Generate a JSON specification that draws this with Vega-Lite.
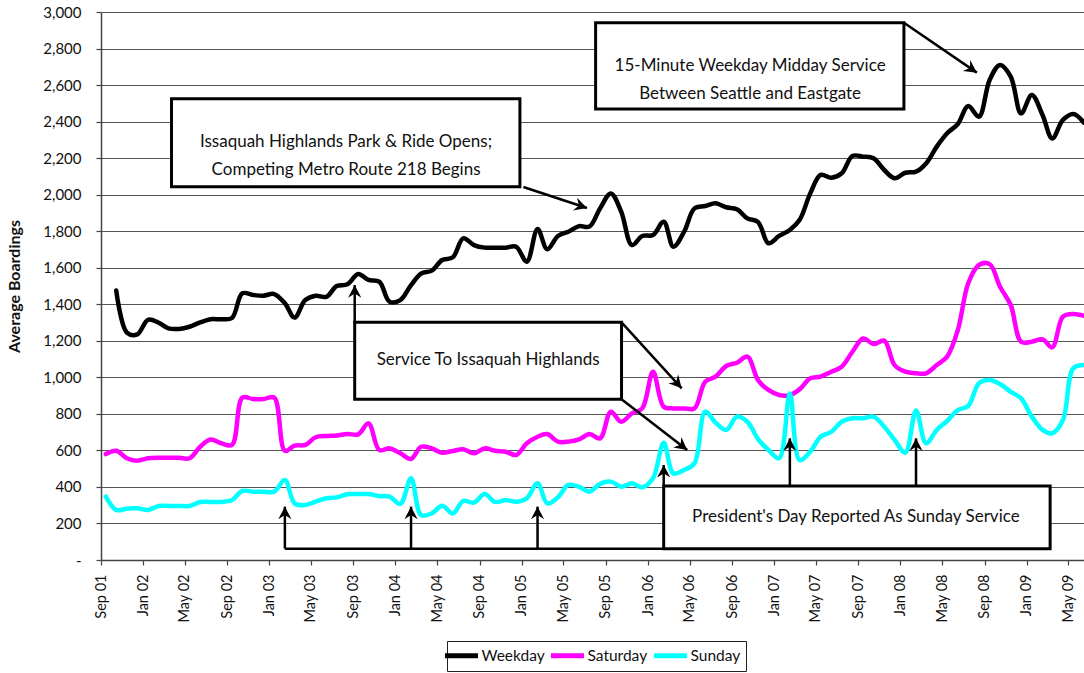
{
  "$schema": "https://vega.github.io/schema/vega-lite/v6.json",
  "width": 983,
  "height": 548,
  "autosize": {"type": "none"},
  "padding": {"left": 101, "top": 12, "right": 0, "bottom": 113},
  "background": "white",
  "config": {"view": {"stroke": null}, "font": "Lato"},
  "datasets": {
    "boardings": [
      {"month": "2001-09-15", "Weekday": null, "Saturday": 580, "Sunday": 347},
      {"month": "2001-10-15", "Weekday": 1475, "Saturday": 598, "Sunday": 274},
      {"month": "2001-11-15", "Weekday": 1245, "Saturday": 557, "Sunday": 281},
      {"month": "2001-12-15", "Weekday": 1235, "Saturday": 544, "Sunday": 283},
      {"month": "2002-01-15", "Weekday": 1315, "Saturday": 557, "Sunday": 274},
      {"month": "2002-02-15", "Weekday": 1299, "Saturday": 560, "Sunday": 296},
      {"month": "2002-03-15", "Weekday": 1268, "Saturday": 560, "Sunday": 296},
      {"month": "2002-04-15", "Weekday": 1265, "Saturday": 560, "Sunday": 296},
      {"month": "2002-05-15", "Weekday": 1277, "Saturday": 557, "Sunday": 296},
      {"month": "2002-06-15", "Weekday": 1301, "Saturday": 620, "Sunday": 318},
      {"month": "2002-07-15", "Weekday": 1318, "Saturday": 660, "Sunday": 318},
      {"month": "2002-08-15", "Weekday": 1318, "Saturday": 639, "Sunday": 318},
      {"month": "2002-09-15", "Weekday": 1325, "Saturday": 630, "Sunday": 328},
      {"month": "2002-10-15", "Weekday": 1460, "Saturday": 889, "Sunday": 378},
      {"month": "2002-11-15", "Weekday": 1451, "Saturday": 881, "Sunday": 374},
      {"month": "2002-12-15", "Weekday": 1447, "Saturday": 881, "Sunday": 374},
      {"month": "2003-01-15", "Weekday": 1456, "Saturday": 889, "Sunday": 374},
      {"month": "2003-02-15", "Weekday": 1405, "Saturday": 598, "Sunday": 438},
      {"month": "2003-03-15", "Weekday": 1327, "Saturday": 626, "Sunday": 310},
      {"month": "2003-04-15", "Weekday": 1423, "Saturday": 630, "Sunday": 301},
      {"month": "2003-05-15", "Weekday": 1447, "Saturday": 672, "Sunday": 319},
      {"month": "2003-06-15", "Weekday": 1441, "Saturday": 679, "Sunday": 338},
      {"month": "2003-07-15", "Weekday": 1500, "Saturday": 682, "Sunday": 343},
      {"month": "2003-08-15", "Weekday": 1509, "Saturday": 690, "Sunday": 360},
      {"month": "2003-09-15", "Weekday": 1566, "Saturday": 688, "Sunday": 361},
      {"month": "2003-10-15", "Weekday": 1533, "Saturday": 748, "Sunday": 361},
      {"month": "2003-11-15", "Weekday": 1524, "Saturday": 602, "Sunday": 350},
      {"month": "2003-12-15", "Weekday": 1414, "Saturday": 611, "Sunday": 347},
      {"month": "2004-01-15", "Weekday": 1423, "Saturday": 584, "Sunday": 307},
      {"month": "2004-02-15", "Weekday": 1505, "Saturday": 553, "Sunday": 447},
      {"month": "2004-03-15", "Weekday": 1568, "Saturday": 620, "Sunday": 246},
      {"month": "2004-04-15", "Weekday": 1584, "Saturday": 611, "Sunday": 255},
      {"month": "2004-05-15", "Weekday": 1642, "Saturday": 587, "Sunday": 297},
      {"month": "2004-06-15", "Weekday": 1657, "Saturday": 597, "Sunday": 255},
      {"month": "2004-07-15", "Weekday": 1761, "Saturday": 606, "Sunday": 323},
      {"month": "2004-08-15", "Weekday": 1724, "Saturday": 584, "Sunday": 314},
      {"month": "2004-09-15", "Weekday": 1710, "Saturday": 611, "Sunday": 361},
      {"month": "2004-10-15", "Weekday": 1710, "Saturday": 598, "Sunday": 318},
      {"month": "2004-11-15", "Weekday": 1710, "Saturday": 593, "Sunday": 328},
      {"month": "2004-12-15", "Weekday": 1715, "Saturday": 575, "Sunday": 319},
      {"month": "2005-01-15", "Weekday": 1633, "Saturday": 639, "Sunday": 338},
      {"month": "2005-02-15", "Weekday": 1812, "Saturday": 675, "Sunday": 420},
      {"month": "2005-03-15", "Weekday": 1701, "Saturday": 690, "Sunday": 310},
      {"month": "2005-04-15", "Weekday": 1774, "Saturday": 648, "Sunday": 343},
      {"month": "2005-05-15", "Weekday": 1797, "Saturday": 648, "Sunday": 411},
      {"month": "2005-06-15", "Weekday": 1828, "Saturday": 660, "Sunday": 401},
      {"month": "2005-07-15", "Weekday": 1825, "Saturday": 690, "Sunday": 374},
      {"month": "2005-08-15", "Weekday": 1925, "Saturday": 666, "Sunday": 417},
      {"month": "2005-09-15", "Weekday": 2007, "Saturday": 812, "Sunday": 429},
      {"month": "2005-10-15", "Weekday": 1907, "Saturday": 757, "Sunday": 401},
      {"month": "2005-11-15", "Weekday": 1724, "Saturday": 803, "Sunday": 420},
      {"month": "2005-12-15", "Weekday": 1774, "Saturday": 830, "Sunday": 398},
      {"month": "2006-01-15", "Weekday": 1779, "Saturday": 1031, "Sunday": 447},
      {"month": "2006-02-15", "Weekday": 1852, "Saturday": 839, "Sunday": 642},
      {"month": "2006-03-15", "Weekday": 1715, "Saturday": 830, "Sunday": 474},
      {"month": "2006-04-15", "Weekday": 1797, "Saturday": 830, "Sunday": 493},
      {"month": "2006-05-15", "Weekday": 1925, "Saturday": 830, "Sunday": 529},
      {"month": "2006-06-15", "Weekday": 1938, "Saturday": 976, "Sunday": 812},
      {"month": "2006-07-15", "Weekday": 1953, "Saturday": 1004, "Sunday": 752},
      {"month": "2006-08-15", "Weekday": 1931, "Saturday": 1062, "Sunday": 712},
      {"month": "2006-09-15", "Weekday": 1920, "Saturday": 1080, "Sunday": 785},
      {"month": "2006-10-15", "Weekday": 1870, "Saturday": 1113, "Sunday": 757},
      {"month": "2006-11-15", "Weekday": 1850, "Saturday": 985, "Sunday": 662},
      {"month": "2006-12-15", "Weekday": 1734, "Saturday": 931, "Sunday": 602},
      {"month": "2007-01-15", "Weekday": 1774, "Saturday": 903, "Sunday": 557},
      {"month": "2007-02-15", "Weekday": 1807, "Saturday": 903, "Sunday": 912},
      {"month": "2007-03-15", "Weekday": 1861, "Saturday": 934, "Sunday": 547},
      {"month": "2007-04-15", "Weekday": 2007, "Saturday": 995, "Sunday": 593},
      {"month": "2007-05-15", "Weekday": 2108, "Saturday": 1004, "Sunday": 675},
      {"month": "2007-06-15", "Weekday": 2093, "Saturday": 1031, "Sunday": 702},
      {"month": "2007-07-15", "Weekday": 2117, "Saturday": 1058, "Sunday": 757},
      {"month": "2007-08-15", "Weekday": 2212, "Saturday": 1140, "Sunday": 776},
      {"month": "2007-09-15", "Weekday": 2208, "Saturday": 1213, "Sunday": 776},
      {"month": "2007-10-15", "Weekday": 2199, "Saturday": 1182, "Sunday": 785},
      {"month": "2007-11-15", "Weekday": 2135, "Saturday": 1201, "Sunday": 730},
      {"month": "2007-12-15", "Weekday": 2090, "Saturday": 1067, "Sunday": 657},
      {"month": "2008-01-15", "Weekday": 2120, "Saturday": 1031, "Sunday": 588},
      {"month": "2008-02-15", "Weekday": 2126, "Saturday": 1022, "Sunday": 818},
      {"month": "2008-03-15", "Weekday": 2171, "Saturday": 1022, "Sunday": 639},
      {"month": "2008-04-15", "Weekday": 2263, "Saturday": 1067, "Sunday": 712},
      {"month": "2008-05-15", "Weekday": 2336, "Saturday": 1113, "Sunday": 761},
      {"month": "2008-06-15", "Weekday": 2387, "Saturday": 1259, "Sunday": 821},
      {"month": "2008-07-15", "Weekday": 2485, "Saturday": 1515, "Sunday": 843},
      {"month": "2008-08-15", "Weekday": 2427, "Saturday": 1615, "Sunday": 967},
      {"month": "2008-09-15", "Weekday": 2628, "Saturday": 1620, "Sunday": 985},
      {"month": "2008-10-15", "Weekday": 2710, "Saturday": 1496, "Sunday": 963},
      {"month": "2008-11-15", "Weekday": 2646, "Saturday": 1396, "Sunday": 921},
      {"month": "2008-12-15", "Weekday": 2445, "Saturday": 1195, "Sunday": 885},
      {"month": "2009-01-15", "Weekday": 2546, "Saturday": 1195, "Sunday": 785},
      {"month": "2009-02-15", "Weekday": 2436, "Saturday": 1208, "Sunday": 712},
      {"month": "2009-03-15", "Weekday": 2308, "Saturday": 1164, "Sunday": 694},
      {"month": "2009-04-15", "Weekday": 2409, "Saturday": 1332, "Sunday": 766},
      {"month": "2009-05-15", "Weekday": 2442, "Saturday": 1347, "Sunday": 1049},
      {"month": "2009-06-15", "Weekday": 2394, "Saturday": 1336, "Sunday": 1067}
    ],
    "boxes": [
      {"month": "2002-03-24", "month_end": "2004-12-26", "value": 2525, "value_end": 2044},
      {"month": "2005-08-02", "month_end": "2008-01-11", "value": 2941, "value_end": 2469},
      {"month": "2003-09-05", "month_end": "2005-10-16", "value": 1301, "value_end": 880},
      {"month": "2006-02-15", "month_end": "2009-03-09", "value": 405, "value_end": 62}
    ],
    "notes": [
      {"month": "2003-08-11", "value": 2288, "label": "Issaquah Highlands Park & Ride Opens;\nCompeting Metro Route 218 Begins"},
      {"month": "2006-10-23", "value": 2704, "label": "15-Minute Weekday Midday Service\nBetween Seattle and Eastgate"},
      {"month": "2004-09-25", "value": 1095, "label": "Service To Issaquah Highlands"},
      {"month": "2007-08-25", "value": 235, "label": "President's Day Reported As Sunday Service"}
    ],
    "arrows": [
      {"month": "2005-01-05", "value": 2042, "month_end": "2005-07-08", "value_end": 1927},
      {"month": "2008-01-11", "value": 2941, "month_end": "2008-08-09", "value_end": 2668},
      {"month": "2005-10-16", "value": 1301, "month_end": "2006-04-08", "value_end": 940},
      {"month": "2005-10-16", "value": 880, "month_end": "2006-04-24", "value_end": 602},
      {"month": "2003-09-05", "value": 1301, "month_end": "2003-09-05", "value_end": 1505},
      {"month": "2003-02-15", "value": 62, "month_end": "2006-02-15", "value_end": 62},
      {"month": "2003-02-15", "value": 62, "month_end": "2003-02-15", "value_end": 292},
      {"month": "2004-02-15", "value": 62, "month_end": "2004-02-15", "value_end": 292},
      {"month": "2005-02-15", "value": 62, "month_end": "2005-02-15", "value_end": 292},
      {"month": "2006-02-15", "value": 405, "month_end": "2006-02-15", "value_end": 520},
      {"month": "2007-02-15", "value": 405, "month_end": "2007-02-15", "value_end": 666},
      {"month": "2008-02-15", "value": 405, "month_end": "2008-02-15", "value_end": 666}
    ],
    "heads_up": [
      {"month": "2003-09-05", "value": 1505},
      {"month": "2003-02-15", "value": 292},
      {"month": "2004-02-15", "value": 292},
      {"month": "2005-02-15", "value": 292},
      {"month": "2006-02-15", "value": 520},
      {"month": "2007-02-15", "value": 666},
      {"month": "2008-02-15", "value": 666}
    ]
  },
  "encoding": {
    "x": {
      "field": "month", "type": "temporal",
      "scale": {"domain": [{"year": 2001, "month": 9, "date": 1}, {"year": 2009, "month": 6, "date": 15}]},
      "axis": {
        "title": null, "format": "%b %y", "tickCount": {"interval": "month", "step": 4},
        "labelAngle": 270, "labelFontSize": 14.5, "labelColor": "#111", "labelPadding": 9,
        "labelOverlap": false, "labelFlush": false, "grid": false,
        "domainColor": "#444", "domainWidth": 1.5, "tickColor": "#444", "tickSize": 5, "tickWidth": 1.2
      }
    },
    "y": {
      "field": "value", "type": "quantitative",
      "scale": {"domain": [0, 3000], "nice": false},
      "axis": {
        "title": "Average Boardings", "titleFontSize": 16, "titleFontWeight": 700, "titleColor": "#111", "titlePadding": 20,
        "tickCount": 15, "labelExpr": "datum.value == 0 ? '-' : format(datum.value, ',')",
        "labelFontSize": 15, "labelColor": "#111", "labelPadding": 15,
        "grid": true, "gridColor": "#555", "gridWidth": 1,
        "domainColor": "#444", "domainWidth": 1.5, "tickColor": "#444", "tickSize": 5, "tickWidth": 1.2
      }
    }
  },
  "layer": [
    {
      "data": {"name": "boardings"},
      "transform": [
        {"fold": ["Weekday", "Saturday", "Sunday"], "as": ["series", "value"]},
        {"filter": "datum.value != null"}
      ],
      "mark": {"type": "line", "strokeWidth": 4.5, "interpolate": "catmull-rom", "strokeCap": "round", "strokeJoin": "round"},
      "encoding": {
        "color": {
          "field": "series", "type": "nominal",
          "scale": {"domain": ["Weekday", "Saturday", "Sunday"], "range": ["#000000", "#ff00ff", "#00ffff"]},
          "legend": {
            "title": null, "orient": "none", "legendX": 346, "legendY": 629, "direction": "horizontal",
            "symbolType": "M-2.36,0L2.36,0", "symbolStrokeWidth": 5, "symbolSize": 196,
            "labelFontSize": 15.5, "labelColor": "#111", "labelOffset": 10.5, "columnPadding": -5,
            "strokeColor": "#222", "fillColor": "white", "padding": 5
          }
        }
      }
    },
    {
      "data": {"name": "boxes"},
      "mark": {"type": "rect", "fill": "white", "stroke": "black", "strokeWidth": 3},
      "encoding": {
        "x2": {"field": "month_end"},
        "y2": {"field": "value_end"}
      }
    },
    {
      "data": {"name": "notes"},
      "mark": {"type": "text", "fontSize": 17, "lineHeight": 28, "align": "center", "baseline": "middle", "lineBreak": "\n", "color": "#111"},
      "encoding": {
        "text": {"field": "label"}
      }
    },
    {
      "data": {"name": "arrows"},
      "mark": {"type": "rule", "strokeWidth": 2.5, "color": "black"},
      "encoding": {
        "x2": {"field": "month_end"},
        "y2": {"field": "value_end"}
      }
    },
    {
      "data": {"name": "heads_up"},
      "mark": {"type": "point", "shape": "M0,0L0.55,1.05L0,0.7L-0.55,1.05Z", "filled": true, "color": "black", "opacity": 1, "size": 576, "angle": 0}
    },
    {
      "data": {"values": [{"month": "2005-07-08", "value": 1927}]},
      "mark": {"type": "point", "shape": "M0,0L0.55,1.05L0,0.7L-0.55,1.05Z", "filled": true, "color": "black", "opacity": 1, "size": 576, "angle": 108}
    },
    {
      "data": {"values": [{"month": "2008-08-09", "value": 2668}]},
      "mark": {"type": "point", "shape": "M0,0L0.55,1.05L0,0.7L-0.55,1.05Z", "filled": true, "color": "black", "opacity": 1, "size": 576, "angle": 124.5}
    },
    {
      "data": {"values": [{"month": "2006-04-08", "value": 940}]},
      "mark": {"type": "point", "shape": "M0,0L0.55,1.05L0,0.7L-0.55,1.05Z", "filled": true, "color": "black", "opacity": 1, "size": 576, "angle": 138}
    },
    {
      "data": {"values": [{"month": "2006-04-24", "value": 602}]},
      "mark": {"type": "point", "shape": "M0,0L0.55,1.05L0,0.7L-0.55,1.05Z", "filled": true, "color": "black", "opacity": 1, "size": 576, "angle": 128}
    }
  ]
}
